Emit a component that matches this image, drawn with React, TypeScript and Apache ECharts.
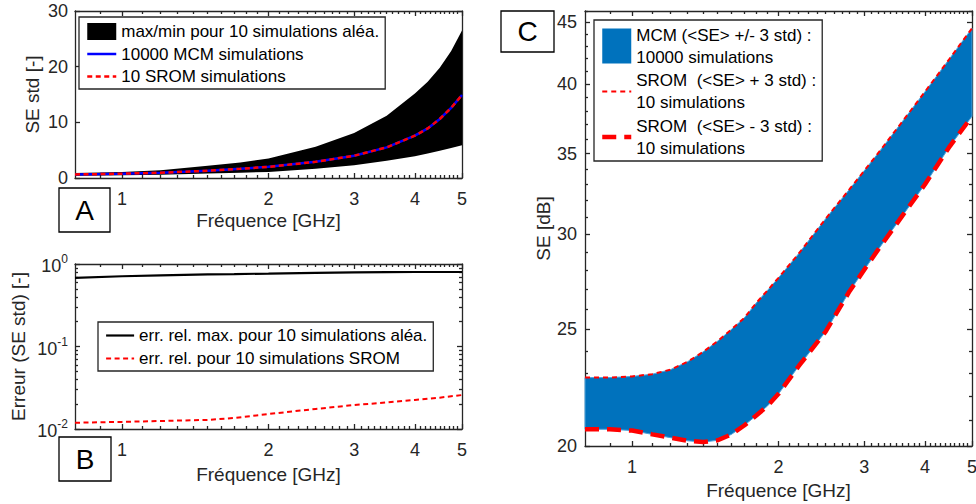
import React, { useEffect, useRef } from "react";
import * as echarts from "echarts";

// ---------- data ----------
const freqA = [0.8, 0.9, 1.0, 1.2, 1.5, 1.75, 2.0, 2.5, 3.0, 3.5, 4.0, 4.25, 4.5, 4.75, 5.0];
const bandMaxA = [0.9, 1.0, 1.1, 1.4, 2.2, 2.8, 3.5, 5.6, 8.1, 11.2, 15.2, 17.3, 19.8, 22.8, 26.5];
const bandMinA = [0.42, 0.46, 0.5, 0.6, 0.8, 0.95, 1.1, 1.65, 2.3, 3.1, 3.9, 4.4, 4.9, 5.4, 5.9];
const mcmStdA = [0.65, 0.7, 0.78, 0.95, 1.3, 1.65, 2.0, 2.9, 4.0, 5.5, 7.6, 8.9, 10.6, 12.6, 14.9];
const sromStdA = [0.65, 0.7, 0.78, 0.95, 1.3, 1.65, 2.0, 2.9, 4.0, 5.5, 7.6, 8.9, 10.6, 12.6, 14.9];

const freqB = [0.8, 1.0, 1.2, 1.5, 1.7, 2.0, 2.5, 3.0, 3.5, 4.0, 4.5, 5.0];
const errMaxB = [0.68, 0.71, 0.73, 0.75, 0.755, 0.765, 0.78, 0.79, 0.795, 0.8, 0.8, 0.8];
const errSromB = [0.0119, 0.0122, 0.0125, 0.0129, 0.0136, 0.0152, 0.0175, 0.0195, 0.021, 0.0225, 0.024, 0.0258];

const freqC = [0.8, 0.9, 1.0, 1.1, 1.2, 1.3, 1.4, 1.5, 1.6, 1.7, 1.8, 1.9, 2.0, 2.2, 2.5, 2.8, 3.2, 3.6, 4.0, 4.5, 5.0];
const mcmUpperC = [22.8, 22.8, 22.85, 22.95, 23.15, 23.5, 23.95, 24.45, 25.0, 25.55, 26.3, 26.95, 27.6, 28.9, 30.9, 32.7, 35.0, 37.25, 39.4, 42.0, 44.5];
const mcmLowerC = [20.65, 20.65, 20.6, 20.45, 20.32, 20.2, 20.15, 20.22, 20.45, 20.8, 21.2, 21.6, 22.1, 23.3, 24.9, 26.9, 29.1, 31.1, 33.0, 35.5, 37.6];
const sromUpperC = [22.8, 22.8, 22.85, 22.95, 23.15, 23.5, 23.95, 24.45, 25.0, 25.55, 26.3, 26.95, 27.6, 28.9, 30.9, 32.7, 35.0, 37.25, 39.4, 42.0, 44.5];
const sromLowerC = [20.65, 20.65, 20.6, 20.45, 20.32, 20.2, 20.15, 20.22, 20.45, 20.8, 21.2, 21.6, 22.1, 23.3, 24.9, 26.9, 29.1, 31.1, 33.0, 35.5, 37.6];

// ---------- ticks ----------
const xTickLabels = [1, 2, 3, 4, 5];
const xMinorTicks = [0.9, 1.1, 1.2, 1.3, 1.4, 1.5, 1.6, 1.7, 1.8, 1.9, 2.1, 2.2, 2.3, 2.4, 2.5, 2.6, 2.7, 2.8, 2.9,
  3.1, 3.2, 3.3, 3.4, 3.5, 3.6, 3.7, 3.8, 3.9, 4.1, 4.2, 4.3, 4.4, 4.5, 4.6, 4.7, 4.8, 4.9];
const yTicksA = [0, 10, 20, 30];
const yTicksB = [0.01, 0.1, 1];
const yMinorB = [0.02, 0.03, 0.04, 0.05, 0.06, 0.07, 0.08, 0.09, 0.2, 0.3, 0.4, 0.5, 0.6, 0.7, 0.8, 0.9];
const yTicksC = [20, 25, 30, 35, 40, 45];
const yMinorC = [21, 22, 23, 24, 26, 27, 28, 29, 31, 32, 33, 34, 36, 37, 38, 39, 41, 42, 43, 44, 46];

// ---------- labels ----------
const BAND_A = "max/min pour 10 simulations aléa.";
const MCM_A = "10000 MCM simulations";
const SROM_A = "10 SROM simulations";
const MAX_B = "err. rel. max. pour 10 simulations aléa.";
const SROM_B = "err. rel. pour 10 simulations SROM";
const MCM_C = "MCM (<SE> +/- 3 std) :\n10000 simulations";
const SROMP_C = "SROM  (<SE> + 3 std) :\n10 simulations";
const SROMM_C = "SROM  (<SE> - 3 std) :\n10 simulations";
const X_NAME = "Fréquence [GHz]";

const FONT = "'Liberation Sans', Arial, Helvetica, sans-serif";
const AX = "#262626";

const STY_MCM_A = { color: "#0000FF", width: 2.5, type: "solid" };
const STY_SROM_A = { color: "#FF0000", width: 2.5, type: [5, 3.5] };
const STY_MAX_B = { color: "#000000", width: 2.2, type: "solid" };
const STY_SROM_B = { color: "#FF0000", width: 2, type: [5, 3.5] };
const STY_SROMP_C = { color: "#FF0000", width: 2, type: [5, 4] };
const STY_SROMM_C = { color: "#FF0000", width: 4.5, type: [14, 8] };

function pts(xs: number[], ys: number[]) {
  return xs.map((x, i) => [x, ys[i]]);
}

function buildAxes(kind: "x" | "y", gridIndex: number, c: any) {
  const lineStyle = { color: AX, width: 1.3 };
  const common: any = {
    type: c.type,
    min: c.min,
    max: c.max,
    gridIndex,
    splitLine: { show: false },
    minorTick: { show: false },
    minorSplitLine: { show: false },
    axisPointer: { show: false },
    silent: true,
  };
  if (c.type === "log") common.logBase = 10;
  const pos = kind === "x" ? ["bottom", "top"] : ["left", "right"];
  const main = {
    ...common,
    position: pos[0],
    axisLine: { show: true, onZero: false, lineStyle },
    axisTick: { show: true, inside: true, length: 5, customValues: c.major, lineStyle },
    axisLabel: {
      show: true,
      customValues: c.major,
      formatter: c.formatter,
      margin: c.labelMargin,
      color: AX,
      fontSize: 18,
      fontFamily: FONT,
      rich: c.rich,
    },
    name: c.name,
    nameLocation: "middle",
    nameGap: c.nameGap,
    nameMoveOverlap: false,
    nameTextStyle: { color: AX, fontSize: 19, fontFamily: FONT },
  };
  const mainMinor = {
    ...common,
    position: pos[0],
    axisLine: { show: false, onZero: false },
    axisTick: { show: c.minor.length > 0, inside: true, length: 3, customValues: c.minor.length ? c.minor : undefined, lineStyle },
    axisLabel: { show: false },
  };
  const opp = {
    ...common,
    position: pos[1],
    axisLine: { show: true, onZero: false, lineStyle },
    axisTick: { show: true, inside: true, length: 5, customValues: c.major, lineStyle },
    axisLabel: { show: false },
  };
  const oppMinor = { ...mainMinor, position: pos[1] };
  return [main, mainMinor, opp, oppMinor];
}

const xCfg = (gap: number) => ({
  type: "log",
  min: 0.8,
  max: 5,
  major: xTickLabels,
  minor: xMinorTicks,
  formatter: (v: number) => String(Math.round(v)),
  labelMargin: 12,
  name: X_NAME,
  nameGap: gap,
});

function bandSeries(name: string, axisIndex: number, xs: number[], lo: number[], hi: number[], fill: string, stroke?: string) {
  return {
    type: "custom",
    name,
    xAxisIndex: axisIndex,
    yAxisIndex: axisIndex,
    silent: true,
    z: 1,
    itemStyle: { color: fill },
    data: xs.map((x, i) => [x, lo[i], hi[i]]),
    encode: { x: 0, y: [1, 2] },
    renderItem: (params: any, api: any) => {
      if (params.dataIndex !== 0) return null;
      const up = xs.map((x, i) => api.coord([x, hi[i]]));
      const down = xs.map((x, i) => api.coord([x, lo[i]])).reverse();
      return {
        type: "polygon",
        shape: { points: up.concat(down) },
        style: stroke ? { fill, stroke, lineWidth: 1 } : { fill },
      };
    },
  };
}

export default function App() {
  const ref = useRef<HTMLDivElement>(null);
  useEffect(() => {
    document.body.style.margin = "0";
    const chart = echarts.init(ref.current!, undefined, { renderer: "svg" });
    const xAxis = [
      ...buildAxes("x", 0, xCfg(33)),
      ...buildAxes("x", 1, xCfg(36)),
      ...buildAxes("x", 2, xCfg(35)),
    ];
    const yAxis = [
      ...buildAxes("y", 0, {
        type: "value", min: 0, max: 30, major: yTicksA, minor: [],
        formatter: (v: number) => String(Math.round(v)), labelMargin: 7,
        name: "SE std [-]", nameGap: 33,
      }),
      ...buildAxes("y", 1, {
        type: "log", min: 0.01, max: 1, major: yTicksB, minor: yMinorB,
        formatter: (v: number) => `{b|10}{s|${Math.round(Math.log10(v))}}`,
        rich: {
          b: { fontSize: 18, fontFamily: FONT, color: AX, verticalAlign: "bottom", lineHeight: 22 },
          s: { fontSize: 12, fontFamily: FONT, color: AX, verticalAlign: "top", lineHeight: 12 },
        },
        labelMargin: 7,
        name: "Erreur (SE std) [-]", nameGap: 47,
      }),
      ...buildAxes("y", 2, {
        type: "log", min: 20, max: 46, major: yTicksC, minor: yMinorC,
        formatter: (v: number) => String(Math.round(v)), labelMargin: 8,
        name: "SE [dB]", nameGap: 32,
      }),
    ];

    const lineBase = { type: "line", symbol: "none", smooth: false, silent: true };

    const series: any[] = [
      // Panel A
      bandSeries(BAND_A, 0, freqA, bandMinA, bandMaxA, "#000000"),
      { ...lineBase, name: MCM_A, xAxisIndex: 0, yAxisIndex: 0, data: pts(freqA, mcmStdA), lineStyle: STY_MCM_A, itemStyle: { color: "#0000FF" }, z: 2 },
      { ...lineBase, name: SROM_A, xAxisIndex: 0, yAxisIndex: 0, data: pts(freqA, sromStdA), lineStyle: STY_SROM_A, itemStyle: { color: "#FF0000" }, z: 3 },
      // Panel B
      { ...lineBase, name: MAX_B, xAxisIndex: 4, yAxisIndex: 4, data: pts(freqB, errMaxB), lineStyle: STY_MAX_B, itemStyle: { color: "#000" }, z: 2 },
      { ...lineBase, name: SROM_B, xAxisIndex: 4, yAxisIndex: 4, data: pts(freqB, errSromB), lineStyle: STY_SROM_B, itemStyle: { color: "#FF0000" }, z: 2 },
      // Panel C
      bandSeries(MCM_C, 8, freqC, mcmLowerC, mcmUpperC, "#0072BD", "#4FA3DB"),
      { ...lineBase, name: SROMP_C, xAxisIndex: 8, yAxisIndex: 8, data: pts(freqC, sromUpperC), lineStyle: STY_SROMP_C, itemStyle: { color: "#FF0000" }, z: 3 },
      { ...lineBase, name: SROMM_C, xAxisIndex: 8, yAxisIndex: 8, data: pts(freqC, sromLowerC), lineStyle: STY_SROMM_C, itemStyle: { color: "#FF0000" }, z: 3 },
    ];

    const legendCommon = {
      orient: "vertical",
      selectedMode: false,
      borderColor: AX,
      borderWidth: 1.3,
      backgroundColor: "#fff",
      borderRadius: 0,
      itemStyle: { opacity: 0 },
      textStyle: { fontSize: 17, color: "#000", fontFamily: FONT },
    };

    const legend = [
      { ...legendCommon, left: 79, top: 17, padding: [6, 6, 4, 7], itemWidth: 29, itemHeight: 17, itemGap: 5.5,
        data: [
          { name: BAND_A, icon: "rect", itemStyle: { color: "#000", opacity: 1 } },
          { name: MCM_A, lineStyle: STY_MCM_A },
          { name: SROM_A, lineStyle: STY_SROM_A },
        ] },
      { ...legendCommon, left: 98, top: 322, padding: [5, 6, 4, 7], itemWidth: 28, itemHeight: 17, itemGap: 6,
        data: [
          { name: MAX_B, lineStyle: STY_MAX_B },
          { name: SROM_B, lineStyle: STY_SROM_B },
        ] },
      { ...legendCommon, left: 594, top: 20, padding: [4, 6, 2, 6], itemWidth: 29, itemHeight: 35, itemGap: 1.5,
        textStyle: { fontSize: 17, color: "#000", fontFamily: FONT, lineHeight: 22 },
        data: [
          { name: MCM_C, icon: "rect", itemStyle: { color: "#0072BD", opacity: 1 } },
          { name: SROMP_C, lineStyle: STY_SROMP_C },
          { name: SROMM_C, lineStyle: STY_SROMM_C },
        ] },
    ];

    const letter = (x: number, y: number, w: number, h: number, t: string) => [
      { type: "rect", shape: { x, y, width: w, height: h }, style: { fill: "#fff", stroke: "#000", lineWidth: 1.3 }, z: 10 },
      { type: "text", x: x + w / 2, y: y + h / 2, style: { text: t, fontSize: 28, fontFamily: FONT, fill: "#000", align: "center", verticalAlign: "middle" }, z: 11 },
    ];

    chart.setOption({
      animation: false,
      backgroundColor: "#fff",
      textStyle: { fontFamily: FONT },
      grid: [
        { left: 75, top: 11, width: 387, height: 167, outerBoundsMode: "none" },
        { left: 75, top: 264, width: 387, height: 165, outerBoundsMode: "none" },
        { left: 585, top: 11, width: 387, height: 435, outerBoundsMode: "none" },
      ],
      xAxis,
      yAxis,
      legend,
      series,
      graphic: [
        ...letter(59, 188, 51, 44, "A"),
        ...letter(59, 437, 52, 44, "B"),
        ...letter(501, 11, 53, 41, "C"),
      ],
    });
    return () => chart.dispose();
  }, []);
  return <div ref={ref} style={{ position: "fixed", left: 0, top: 0, width: 976, height: 504 }} />;
}
